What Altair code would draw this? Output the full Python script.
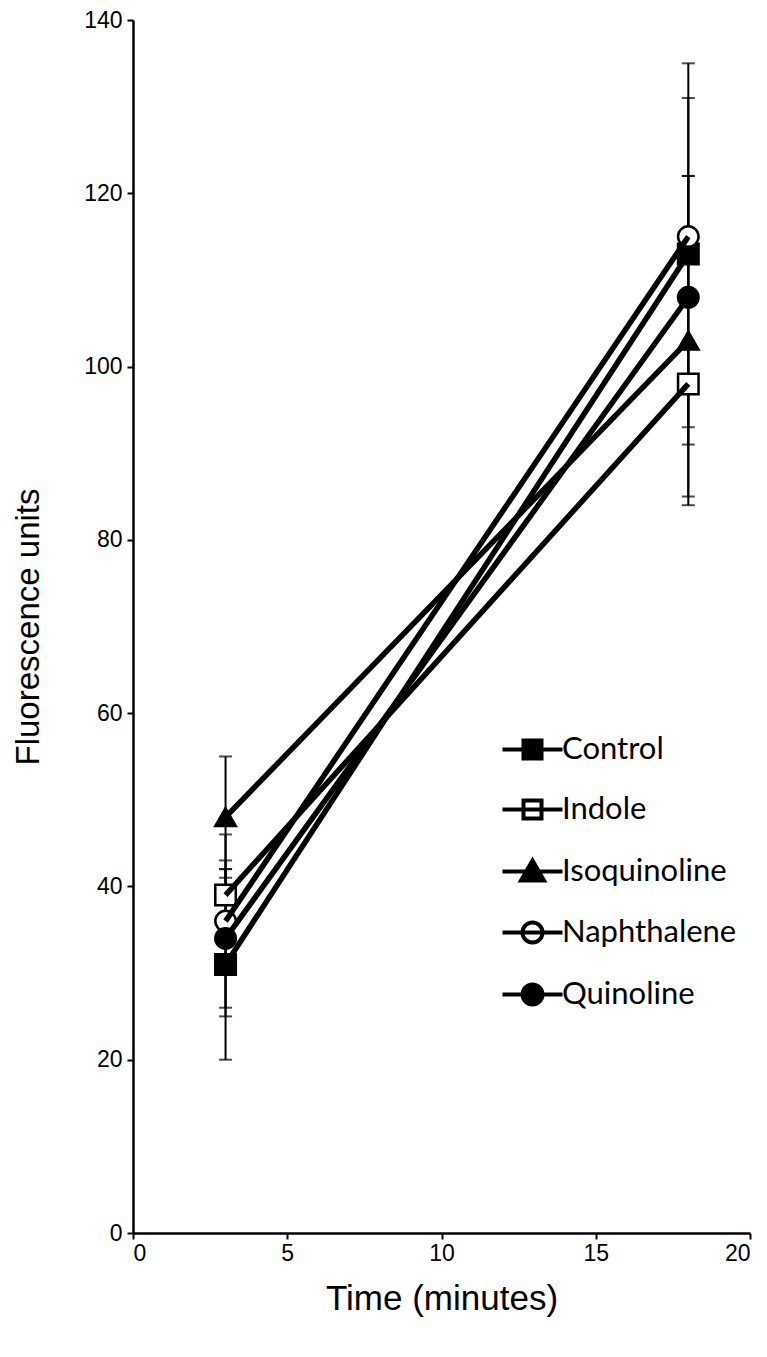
import altair as alt
import pandas as pd

series = ["Control", "Indole", "Isoquinoline", "Naphthalene", "Quinoline"]
times = [3, 18]
values_t3 = [31, 39, 48, 36, 34]
values_t18 = [113, 98, 103, 115, 108]
err_t3 = [11, 3, 7, 10, 9]
err_t18 = [22, 5, 19, 7, 23]

marker_shapes = ["square", "square", "triangle-up", "circle", "circle"]
marker_fills = ["black", "white", "black", "white", "black"]
legend_paths = [
    "M-3,0H3M-0.9,-0.9H0.9V0.9H-0.9Z",
    "M-3,0H3M-0.9,-0.9H0.9V0.9H-0.9Z",
    "M-3,0H3M0,-1.1L1.15,0.9H-1.15Z",
    "M-3,0H3M-1,0A1,1 0 1,0 1,0A1,1 0 1,0 -1,0Z",
    "M-3,0H3M-1,0A1,1 0 1,0 1,0A1,1 0 1,0 -1,0Z",
]
legend_strokes = ["black"] * 5

rows = []
for i, s in enumerate(series):
    for t, v, e in zip(times, [values_t3[i], values_t18[i]], [err_t3[i], err_t18[i]]):
        rows.append({"series": s, "time": t, "value": v, "lo": v - e, "hi": v + e})
df = pd.DataFrame(rows)
caps = pd.concat([
    df.assign(cap=df["lo"]),
    df.assign(cap=df["hi"]),
])

base = alt.Chart(df)
x_enc = alt.X("time:Q", scale=alt.Scale(domain=[0, 20]),
              axis=alt.Axis(values=[0, 5, 10, 15, 20], title="Time (minutes)", titleFontSize=35))
y_scale = alt.Scale(domain=[0, 140])

err_rules = base.mark_rule(color="black", strokeWidth=2).encode(
    x=x_enc,
    y=alt.Y("lo:Q", scale=y_scale,
            axis=alt.Axis(values=[0, 20, 40, 60, 80, 100, 120, 140], title="Fluorescence units")),
    y2="hi:Q",
)
err_caps = alt.Chart(caps).mark_tick(color="black", orient="horizontal", size=13, thickness=2).encode(
    x="time:Q",
    y=alt.Y("cap:Q", scale=y_scale),
)

points = base.mark_point(filled=False, size=420, strokeWidth=2.5, stroke="black", opacity=1).encode(
    x="time:Q",
    y=alt.Y("value:Q", scale=y_scale),
    shape=alt.Shape("series:N", scale=alt.Scale(domain=series, range=marker_shapes), legend=None),
    fill=alt.Fill("series:N", scale=alt.Scale(domain=series, range=marker_fills), legend=None),
)

lines = base.mark_line(color="black", strokeWidth=5.5).encode(
    x="time:Q",
    y=alt.Y("value:Q", scale=y_scale),
    detail="series:N",
)

legend_layer = alt.Chart(df).transform_filter("false").mark_point(
    filled=False, size=400, strokeWidth=4, opacity=1
).encode(
    x="time:Q",
    y=alt.Y("value:Q", scale=y_scale),
    shape=alt.Shape(
        "series:N",
        scale=alt.Scale(domain=series, range=legend_paths),
        legend=alt.Legend(
            title=None, orient="none", legendX=384, legendY=714, padding=0,
            symbolSize=400, symbolStrokeWidth=4,
            labelOffset=14, labelFontSize=31, labelFont="Lato", labelColor="black",
            labelLimit=400, rowPadding=25, symbolOpacity=1,
        ),
    ),
    fill=alt.Fill("series:N", scale=alt.Scale(domain=series, range=marker_fills)),
    stroke=alt.Stroke("series:N", scale=alt.Scale(domain=series, range=legend_strokes)),
)

chart = alt.layer(err_rules, err_caps, points, lines, legend_layer).resolve_scale(
    shape="independent", fill="independent", stroke="independent"
).properties(
    width=617, height=1213,
    autosize=alt.AutoSizeParams(type="none"),
    padding={"left": 125, "top": 12, "right": 9, "bottom": 110},
).configure_view(stroke=None).configure_axis(
    grid=False,
    domainColor="black", domainWidth=2.5,
    tickColor="black", tickWidth=2, tickSize=6,
    labelFont="Liberation Sans", labelFontSize=23, labelColor="black",
    titleFont="Liberation Sans", titleFontSize=33, titleFontWeight="normal", titleColor="black",
).configure_axisY(labelPadding=5, titlePadding=38).configure_axisX(labelPadding=3, titlePadding=16)

chart.save("out.html", embed_options={"renderer": "svg", "actions": False})
